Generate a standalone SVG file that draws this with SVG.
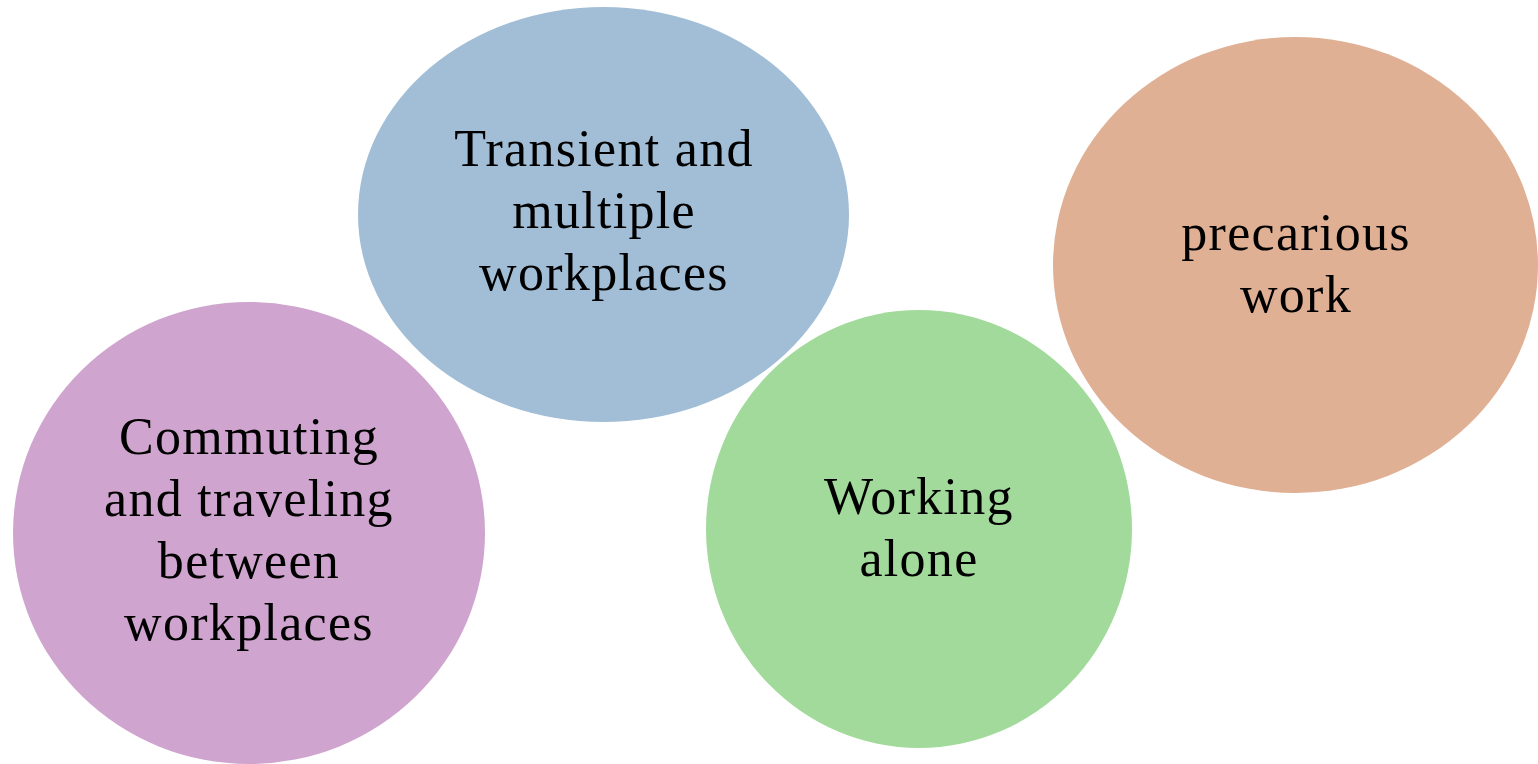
<svg xmlns="http://www.w3.org/2000/svg" width="1538" height="764" viewBox="0 0 1538 764">
  <style>
    .lbl { font-family: "Liberation Serif", "DejaVu Serif", serif; font-size: 52px; letter-spacing: 1.3px; fill: #000; text-anchor: middle; }
  </style>
  <rect width="1538" height="764" fill="#ffffff"/>
  <g id="transient">
    <ellipse cx="603.5" cy="214.5" rx="245.5" ry="207.5" fill="#a2bed6"/>
    <text class="lbl"><tspan x="604" y="166">Transient and</tspan><tspan x="604" y="228">multiple</tspan><tspan x="604" y="290">workplaces</tspan></text>
  </g>
  <g id="precarious">
    <ellipse cx="1295.5" cy="265" rx="242.5" ry="228" fill="#e0b094"/>
    <text class="lbl"><tspan x="1296" y="250">precarious</tspan><tspan x="1296" y="312">work</tspan></text>
  </g>
  <g id="commuting">
    <ellipse cx="249" cy="533" rx="236" ry="231" fill="#cfa4ce"/>
    <text class="lbl"><tspan x="249" y="454">Commuting</tspan><tspan x="249" y="516">and traveling</tspan><tspan x="249" y="578">between</tspan><tspan x="249" y="640">workplaces</tspan></text>
  </g>
  <g id="alone">
    <ellipse cx="919" cy="529" rx="213" ry="219" fill="#a1da9a"/>
    <text class="lbl"><tspan x="919" y="514">Working</tspan><tspan x="919" y="576">alone</tspan></text>
  </g>
  <g id="connectors"/>
</svg>
